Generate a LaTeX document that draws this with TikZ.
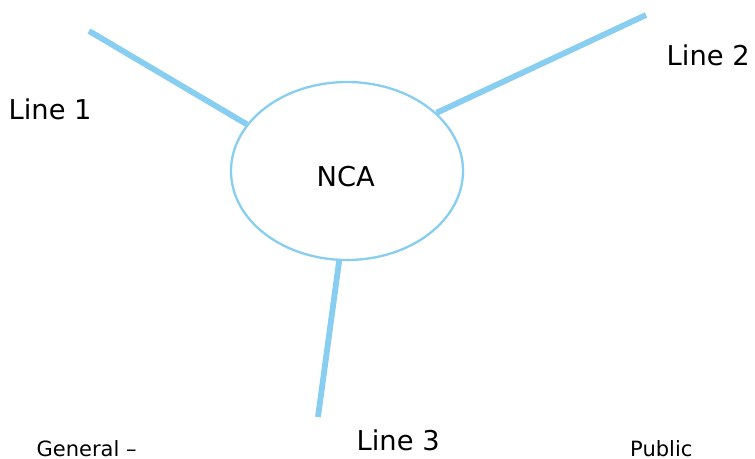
\documentclass[tikz,border=0pt]{standalone}
\usepackage{fontspec}
\usetikzlibrary{shapes.geometric}
\setmainfont{DejaVu Sans}
\definecolor{lineblue}{RGB}{135,206,240}
\begin{document}
\begin{tikzpicture}[x=1pt,y=-1pt,
  txt/.style={inner sep=0pt,font=\fontsize{27.3}{30}\selectfont},
  foot/.style={inner sep=0pt,text depth=0pt,font=\fontsize{21}{24}\selectfont},
  spoke/.style={draw=lineblue,line width=5.8pt},
  hub/.style={draw=lineblue,line width=2.3pt,ellipse,minimum width=232pt,minimum height=178pt,inner sep=0pt}]
\useasboundingbox (0,0) rectangle (755,458);
\fill[white] (0,0) rectangle (755,458);
\node[hub] (nca) at (347,171) {};
\node[txt,anchor=base west] (ncatext) at (316.5,186.7) {NCA};
\coordinate (e1) at (89,31);
\coordinate (e2) at (646,15);
\coordinate (e3) at (318,417);
\draw[spoke] (e1) -- (nca.155);
\draw[spoke] (e2) -- (nca.33);
\draw[spoke] (e3) -- (nca.265);
\node[txt,anchor=base west] (l1) at (8.5,119.3) {Line 1};
\node[txt,anchor=base west] (l2) at (666.5,65) {Line 2};
\node[txt,anchor=base west] (l3) at (356.5,450) {Line 3};
\node[foot,anchor=base west] (g) at (36.5,456) {General –};
\node[foot,anchor=base west] (p) at (630,456) {Public};
\end{tikzpicture}
\end{document}
